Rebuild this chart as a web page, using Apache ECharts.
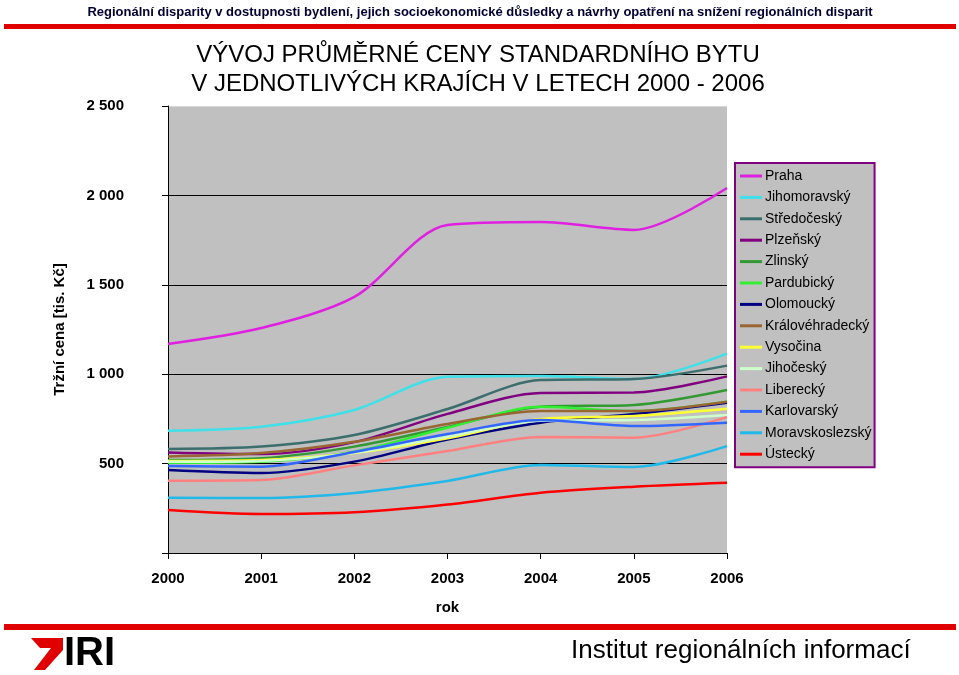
<!DOCTYPE html>
<html>
<head>
<meta charset="utf-8">
<script src="https://cdn.jsdelivr.net/npm/echarts@6/dist/echarts.min.js"></script>
<style>
html,body{margin:0;padding:0;background:#fff;}
#chart{width:959px;height:675px;}
</style>
</head>
<body>
<div id="chart"></div>
<script>
const years = ['2000','2001','2002','2003','2004','2005','2006'];
const yTicks = [0, 500, 1000, 1500, 2000, 2500];

const praha           = [1169, 1258, 1432, 1834, 1851, 1807, 2041];
const jihomoravsky    = [684, 706, 800, 986, 990, 973, 1115];
const stredocesky     = [582, 595, 660, 805, 967, 973, 1048];
const plzensky        = [562, 553, 620, 778, 895, 897, 988];
const zlinsky         = [520, 530, 595, 705, 818, 828, 912];
const pardubicky      = [505, 511, 567, 700, 818, 794, 846];
const olomoucky       = [464, 447, 511, 635, 729, 777, 840];
const kralovehradecky = [540, 559, 622, 722, 794, 794, 846];
const vysocina        = [515, 520, 559, 641, 749, 766, 807];
const jihocesky       = [510, 515, 560, 650, 740, 744, 772];
const liberecky       = [404, 408, 490, 570, 649, 645, 760];
const karlovarsky     = [487, 483, 565, 665, 744, 710, 729];
const moravskoslezsky = [309, 308, 336, 403, 492, 481, 598];
const ustecky         = [240, 218, 228, 271, 337, 371, 393];

const seriesNames = ['Praha','Jihomoravský','Středočeský','Plzeňský','Zlinský','Pardubický','Olomoucký','Královéhradecký','Vysočina','Jihočeský','Liberecký','Karlovarský','Moravskoslezský','Ústecký'];
const seriesData = [praha, jihomoravsky, stredocesky, plzensky, zlinsky, pardubicky, olomoucky, kralovehradecky, vysocina, jihocesky, liberecky, karlovarsky, moravskoslezsky, ustecky];
const seriesColors = ['#E020E0','#40E0E8','#3C6E6E','#800080','#339933','#33EE33','#000080','#996633','#FFFF33','#CCFFCC','#FF8080','#3366FF','#22B8E8','#FF0000'];

const chart = echarts.init(document.getElementById('chart'), null, {renderer:'canvas'});
const F = '"Liberation Sans", Arial, sans-serif';

function fmt(v){
  if (v === 0) return '';
  const s = String(v);
  return s.length > 3 ? s.slice(0, s.length-3) + ' ' + s.slice(-3) : s;
}

chart.setOption({
  backgroundColor:'#ffffff',
  animation:false,
  title:[
    {text:'Regionální disparity v dostupnosti bydlení, jejich socioekonomické důsledky a návrhy opatření na snížení regionálních disparit',
     left:475, textAlign:'center', top:1, textStyle:{fontFamily:F, fontSize:13, fontWeight:'bold', color:'#000033'}},
    {text:'VÝVOJ PRŮMĚRNÉ CENY STANDARDNÍHO BYTU\nV JEDNOTLIVÝCH KRAJÍCH V LETECH 2000 - 2006',
     left:473, textAlign:'center', top:36, textStyle:{fontFamily:F, fontSize:24, fontWeight:'normal', color:'#000000', lineHeight:29}}
  ],
  graphic:[
    {type:'rect', shape:{x:4, y:24, width:952, height:5}, style:{fill:'#E00000'}},
    {type:'rect', shape:{x:4, y:624, width:952, height:6}, style:{fill:'#E00000'}},
    {type:'polygon', shape:{points:[[31,638],[63,638],[63,650],[45,670],[34,670],[51,648],[40,648]]}, style:{fill:'#E00000'}},
    {type:'text', left:64, top:634, style:{text:'IRI', font:'bold 40px "Liberation Sans Narrow", "Liberation Sans", Arial', fill:'#000'}},
    {type:'text', left:571, top:638, style:{text:'Institut regionálních informací', font:'26px "Liberation Sans", Arial', fill:'#000'}}
  ],
  legend:{
    orient:'vertical', left:735, top:163,
    backgroundColor:'#C0C0C0', borderColor:'#800080', borderWidth:2,
    padding:[5,3,5,5],
    icon:'rect', itemWidth:22, itemHeight:3, itemGap:5.4,
    textStyle:{fontFamily:F, fontSize:14, color:'#000', lineHeight:16, padding:[0,0,0,-2]},
    data:seriesNames
  },
  grid:{left:168, right:232, top:106, bottom:122, show:true, backgroundColor:'#C0C0C0', borderWidth:0},
  xAxis:{
    type:'category', data:years, boundaryGap:false,
    name:'rok', nameLocation:'middle', nameGap:47,
    nameTextStyle:{fontFamily:F, fontSize:15, fontWeight:'bold', color:'#000'},
    axisLine:{lineStyle:{color:'#000', width:1}},
    axisTick:{show:true, length:6, alignWithLabel:true, lineStyle:{color:'#000'}},
    axisLabel:{fontFamily:F, fontSize:15, fontWeight:'bold', color:'#000', margin:18},
    splitLine:{show:false}
  },
  yAxis:{
    type:'value', min:0, max:2500, interval:500,
    name:'Tržní cena [tis. Kč]', nameLocation:'middle', nameGap:101,
    nameTextStyle:{fontFamily:F, fontSize:15, fontWeight:'bold', color:'#000'},
    axisLine:{show:true, lineStyle:{color:'#000', width:1}},
    axisTick:{show:true, length:6, lineStyle:{color:'#000'}},
    axisLabel:{fontFamily:F, fontSize:15, fontWeight:'bold', color:'#000', margin:44, formatter:fmt},
    splitLine:{show:true, lineStyle:{color:['#C0C0C0','#000','#000','#000','#000','#D8D8D8'], width:1.2}}
  },
  series: seriesNames.map((n,i)=>({
    name:n, type:'line', data:seriesData[i], smooth:0.3, showSymbol:false, symbol:'none',
    lineStyle:{width:2.5, color:seriesColors[i]}, itemStyle:{color:seriesColors[i]}
  }))
});
</script>
</body>
</html>
